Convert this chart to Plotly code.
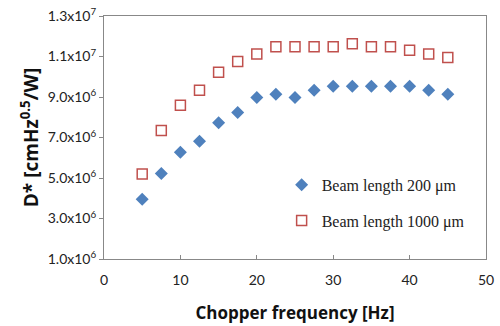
import plotly.graph_objects as go

freq = [5, 7.5, 10, 12.5, 15, 17.5, 20, 22.5, 25, 27.5, 30, 32.5, 35, 37.5, 40, 42.5, 45]
d_200 = [3.95e6, 5.22e6, 6.27e6, 6.82e6, 7.73e6, 8.24e6, 8.98e6, 9.13e6, 8.98e6, 9.33e6,
         9.53e6, 9.53e6, 9.53e6, 9.53e6, 9.53e6, 9.33e6, 9.13e6]
d_1000 = [5.2e6, 7.35e6, 8.59e6, 9.33e6, 1.022e7, 1.075e7, 1.112e7, 1.148e7, 1.148e7, 1.148e7,
          1.148e7, 1.163e7, 1.148e7, 1.148e7, 1.131e7, 1.112e7, 1.095e7]

y_ticks = [1e6, 3e6, 5e6, 7e6, 9e6, 1.1e7, 1.3e7]
y_ticktext = ["1.0x10<sup>6</sup>", "3.0x10<sup>6</sup>", "5.0x10<sup>6</sup>", "7.0x10<sup>6</sup>",
              "9.0x10<sup>6</sup>", "1.1x10<sup>7</sup>", "1.3x10<sup>7</sup>"]
x_ticks = [0, 10, 20, 30, 40, 50]

fig = go.Figure()
fig.add_trace(go.Scatter(
    x=freq, y=d_200, mode="markers", name="Beam length 200 \u03bcm",
    legendgroup="a",
    marker=dict(symbol="diamond", size=10, color="#4F81BD", line=dict(width=0))))
fig.add_trace(go.Scatter(
    x=freq, y=d_1000, mode="markers", name="Beam length 1000 \u03bcm",
    legendgroup="b",
    marker=dict(symbol="square-open", size=10, color="#C0504D", line=dict(width=1.5))))

axis_common = dict(showline=True, linecolor="#888888", linewidth=1, mirror=True,
                   showgrid=False, zeroline=False, automargin=False,
                   tickfont=dict(family="Lato", size=14, color="#222222"))

fig.update_layout(
    width=500, height=326,
    margin=dict(l=104, r=14, t=16, b=67),
    paper_bgcolor="white", plot_bgcolor="white",
    xaxis=dict(range=[0, 50], tickvals=x_ticks, ticks="inside", ticklen=4, tickcolor="#888888",
               ticklabelstandoff=8,
               title=dict(text="<b>Chopper frequency [Hz]</b>", font=dict(family="Open Sans", size=17, color="#111111"), standoff=20),
               **axis_common),
    yaxis=dict(range=[1e6, 1.3e7], tickvals=y_ticks, ticktext=y_ticktext, ticks="outside", ticklen=4,
               tickcolor="#888888",
               title=dict(text="<b>D* [cmHz<sup>0.5</sup>/W]</b>", font=dict(family="Open Sans", size=19, color="#111111"), standoff=4),
               **axis_common),
    legend=dict(x=0.465, y=0.375, xanchor="left", yanchor="top", bgcolor="rgba(0,0,0,0)",
                font=dict(family="Liberation Serif", size=16, color="#222222"),
                tracegroupgap=12, itemwidth=30),
    showlegend=True,
)

fig.write_html("out.html")
